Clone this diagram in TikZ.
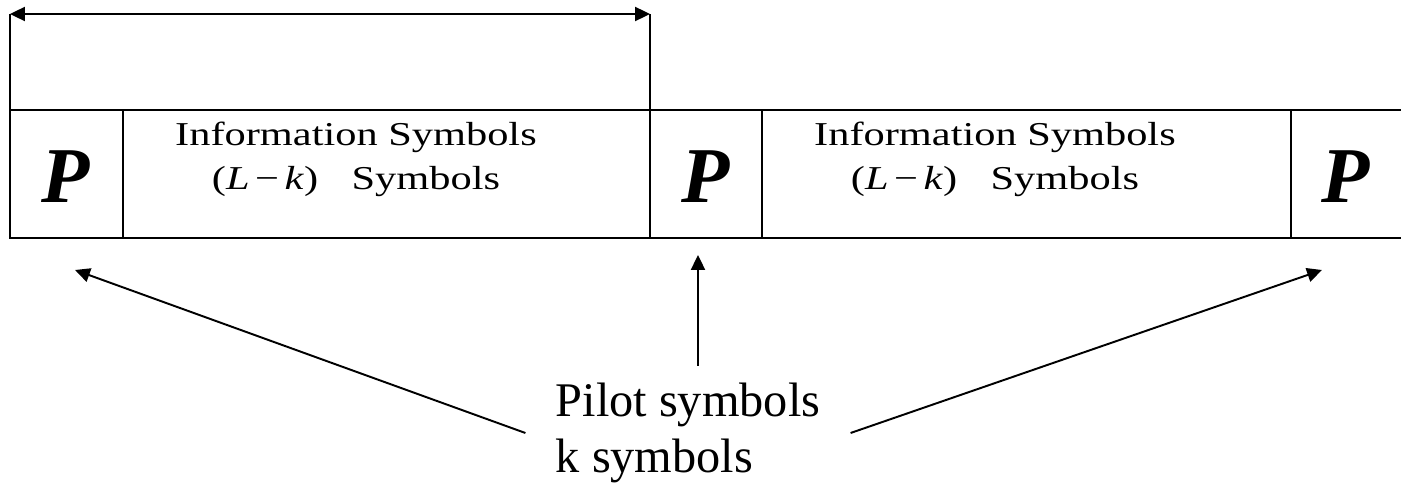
\documentclass[tikz,border=0pt]{standalone}
\usepackage{fontspec}
\setmainfont{Liberation Serif}
\newfontfamily\widefont[FakeStretch=1.27]{Liberation Serif}
\usetikzlibrary{arrows.meta}

\tikzset{
  frame/.style={line width=1.1pt},
  pilotcell/.style={line width=1.7pt},
  pointer/.style={line width=1.1pt,-{Triangle[length=8.5pt,width=8pt]}},
  pletter/.style={font=\fontsize{45}{45}\selectfont\bfseries\itshape,anchor=base,inner sep=0pt},
  infotext/.style={font=\widefont\fontsize{19}{25.5}\selectfont,align=center,anchor=base},
  pilottext/.style={font=\fontsize{27.5}{31.8}\selectfont,align=left,
    inner xsep=0.6cm,inner ysep=0.34cm}
}

\begin{document}
\begin{tikzpicture}[x=0.02cm,y=-0.02cm]
  \useasboundingbox (0,0) rectangle (1401,483);

  % one period: pilot + information block
  \coordinate (dimL) at (10,14);
  \coordinate (dimR) at (650,14);
  \draw[frame] (10,110) -- (dimL);
  \draw[frame] (650,110) -- (dimR);
  \draw[frame,{Triangle[length=8.5pt,width=8pt]}-{Triangle[length=8.5pt,width=8pt]}] (dimL) -- (dimR);

  % the frame
  \draw[frame] (1401,110) -- (10,110) -- (10,238) -- (1401,238);
  \draw[frame] (123,110) -- (123,238);
  \draw[frame] (1291,110) -- (1291,238);
  \draw[pilotcell] (650,110) rectangle (762,238);

  \node[pletter] (p1) at (66,203) {P};
  \node[pletter] (p2) at (706,203) {P};
  \node[pletter] (p3) at (1346,203) {P};

  \node[infotext] (info1) at (356,190) {Information Symbols\\(\textit{L}\,−\,\textit{k})\quad Symbols};
  \node[infotext] (info2) at (995,190) {Information Symbols\\(\textit{L}\,−\,\textit{k})\quad Symbols};

  % pilot positions
  \node[pilottext] (pilot) at (688,433) {Pilot symbols\\k symbols};
  \coordinate (tipL) at (75,270);
  \coordinate (tipM) at (698,255);
  \coordinate (tipR) at (1322,270);
  \draw[pointer] (pilot.west) -- (tipL);
  \draw[pointer] (pilot.north -| tipM) -- (tipM);
  \draw[pointer] (pilot.east) -- (tipR);
\end{tikzpicture}
\end{document}
